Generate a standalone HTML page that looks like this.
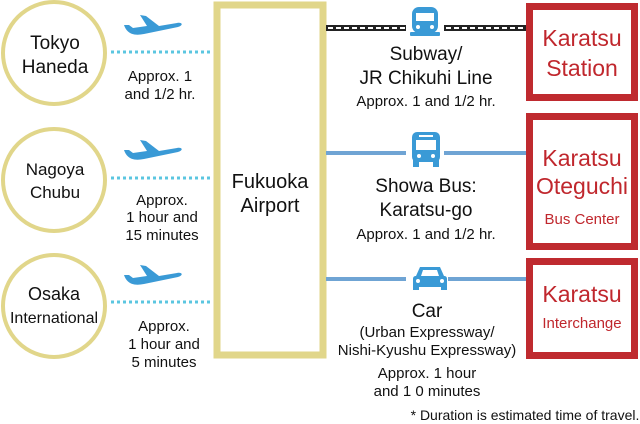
<!DOCTYPE html>
<html><head><meta charset="utf-8"><style>
html,body{margin:0;padding:0;background:#fff;width:640px;height:424px;overflow:hidden}
svg{display:block}
text{font-family:"Liberation Sans Narrow","Liberation Sans",sans-serif;text-anchor:middle;fill:#111}
.r{fill:#c0272d}
</style></head><body>
<svg width="640" height="424" viewBox="0 0 640 424">
<g fill="none" stroke="#e1d68a" stroke-width="4">
<circle cx="54" cy="53" r="51"/>
<circle cx="54" cy="180" r="51"/>
<circle cx="54" cy="306" r="51"/>
<rect x="217" y="5" width="106" height="350" stroke-width="7"/>
</g>
<text x="55" y="49" font-size="19">Tokyo</text>
<text x="55" y="73" font-size="19">Haneda</text>
<text x="55" y="175" font-size="17">Nagoya</text>
<text x="55" y="198" font-size="17">Chubu</text>
<text x="54" y="300" font-size="18">Osaka</text>
<text x="54" y="323" font-size="16">International</text>
<g stroke="#5bc6e0" stroke-width="3" stroke-dasharray="3,3">
<line x1="111" y1="52" x2="213" y2="52"/>
<line x1="111" y1="178" x2="213" y2="178"/>
<line x1="111" y1="302" x2="213" y2="302"/>
</g>
<g fill="#3a9ad6">
<path id="pl" d="M124 25 l5 0 4 3 14 -2 -7 -11 6 1 13 10 18 -3 c5 -1 7 2 1 4 l-34 7 c-10 2 -17 0 -20 -9z"/>
<use href="#pl" y="125"/>
<use href="#pl" y="250"/>
</g>
<text x="160" y="81" font-size="15">Approx. 1</text>
<text x="160" y="99" font-size="15">and 1/2 hr.</text>
<text x="162" y="205" font-size="15">Approx.</text>
<text x="162" y="222" font-size="15">1 hour and</text>
<text x="162" y="240" font-size="15">15 minutes</text>
<text x="164" y="331" font-size="15">Approx.</text>
<text x="164" y="349" font-size="15">1 hour and</text>
<text x="164" y="367" font-size="15">5 minutes</text>
<text x="270" y="188" font-size="20">Fukuoka</text>
<text x="270" y="212" font-size="20">Airport</text>
<rect x="326" y="25" width="80" height="6" fill="#222"/>
<rect x="444" y="25" width="82" height="6" fill="#222"/>
<line x1="328" y1="28" x2="406" y2="28" stroke="#fff" stroke-width="2" stroke-dasharray="5,3"/>
<line x1="446" y1="28" x2="526" y2="28" stroke="#fff" stroke-width="2" stroke-dasharray="5,3"/>
<g fill="#3a9ad6">
<rect x="412" y="7" width="26" height="26" rx="7"/>
<rect x="410" y="32" width="30" height="4" rx="1"/>
</g>
<rect x="416" y="13" width="18" height="8" fill="#fff"/>
<circle cx="418" cy="27" r="2" fill="#fff"/><circle cx="432" cy="27" r="2" fill="#fff"/>
<text x="426" y="60" font-size="19">Subway/</text>
<text x="426" y="84" font-size="19">JR Chikuhi Line</text>
<text x="426" y="106" font-size="15">Approx. 1 and 1/2 hr.</text>
<line x1="326" y1="153" x2="406" y2="153" stroke="#6fa4d4" stroke-width="4"/>
<line x1="444" y1="153" x2="526" y2="153" stroke="#6fa4d4" stroke-width="4"/>
<g fill="#3a9ad6">
<rect x="412" y="132" width="28" height="30" rx="5"/>
<rect x="413" y="160" width="6" height="7"/><rect x="433" y="160" width="6" height="7"/>
</g>
<rect x="416" y="140" width="20" height="10" fill="#fff"/>
<rect x="419" y="135" width="14" height="2" fill="#fff"/>
<circle cx="419" cy="156" r="2" fill="#fff"/><circle cx="433" cy="156" r="2" fill="#fff"/>
<text x="426" y="192" font-size="19">Showa Bus:</text>
<text x="426" y="216" font-size="19">Karatsu-go</text>
<text x="426" y="239" font-size="15">Approx. 1 and 1/2 hr.</text>
<line x1="326" y1="279" x2="406" y2="279" stroke="#6fa4d4" stroke-width="4"/>
<line x1="448" y1="279" x2="526" y2="279" stroke="#6fa4d4" stroke-width="4"/>
<g fill="#3a9ad6">
<path d="M416 276 l4 -9 h20 l4 9 c2 0 3 1 3 3 v8 h-34 v-8 c0 -2 1 -3 3 -3z"/>
<rect x="413" y="285" width="6" height="5"/><rect x="441" y="285" width="6" height="5"/>
</g>
<path d="M421 276 l2 -6 h14 l2 6z" fill="#fff"/>
<circle cx="418" cy="281" r="2" fill="#fff"/><circle cx="442" cy="281" r="2" fill="#fff"/>
<text x="427" y="317" font-size="19">Car</text>
<text x="427" y="337" font-size="15">(Urban Expressway/</text>
<text x="427" y="355" font-size="15">Nishi-Kyushu Expressway)</text>
<text x="427" y="378" font-size="15">Approx. 1 hour</text>
<text x="427" y="396" font-size="15">and 1 0  minutes</text>
<text x="525" y="420" font-size="14">* Duration is estimated time of travel.</text>
<g fill="none" stroke="#bf2a2f" stroke-width="7">
<rect x="529.5" y="6.5" width="105" height="91"/>
<rect x="529.5" y="116.5" width="105" height="130"/>
<rect x="529.5" y="261.5" width="105" height="94"/>
</g>
<text class="r" x="582" y="46" font-size="23">Karatsu</text>
<text class="r" x="582" y="76" font-size="23">Station</text>
<text class="r" x="582" y="166" font-size="23">Karatsu</text>
<text class="r" x="582" y="194" font-size="23">Oteguchi</text>
<text class="r" x="582" y="224" font-size="15">Bus Center</text>
<text class="r" x="582" y="302" font-size="23">Karatsu</text>
<text class="r" x="582" y="328" font-size="15">Interchange</text>
</svg>
</body></html>
